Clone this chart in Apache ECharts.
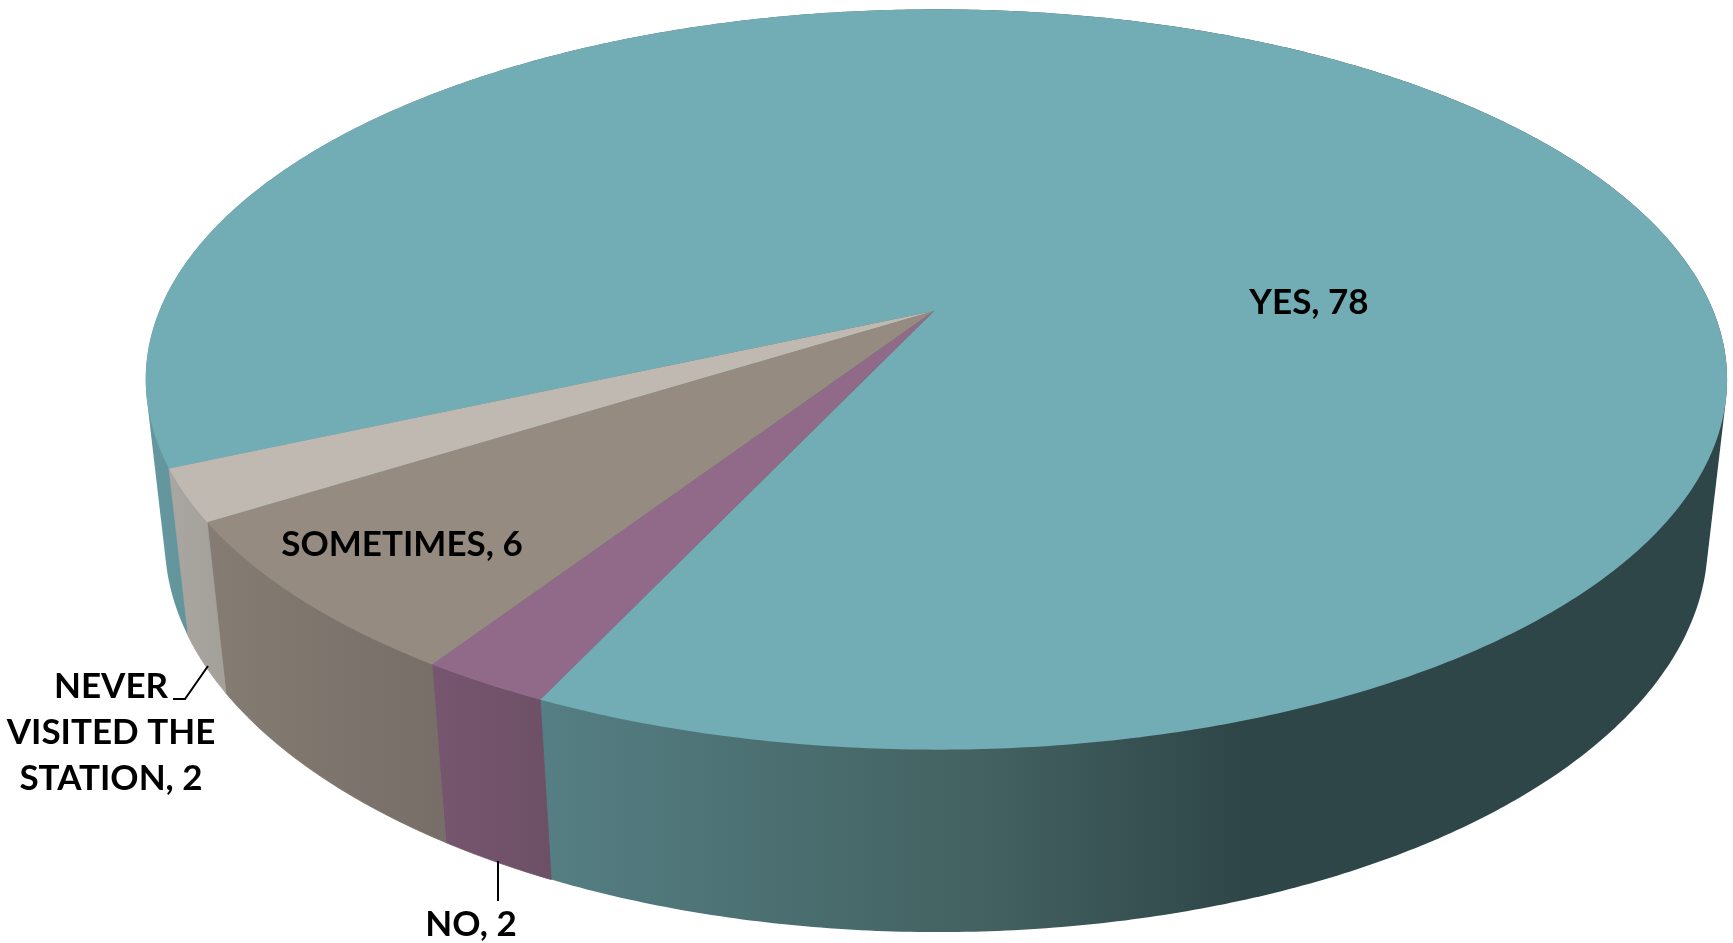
<!DOCTYPE html>
<html>
<head>
<meta charset="utf-8">
<style>html,body{margin:0;padding:0;background:#fff}#c{width:1733px;height:943px}</style>
<script src="https://cdn.jsdelivr.net/npm/echarts@6/dist/echarts.min.js"></script>
</head>
<body>
<div id="c"></div>
<script>
// Data
var categories = ['YES', 'NO', 'SOMETIMES', 'NEVER VISITED THE STATION'];
var values = [78, 2, 6, 2];
var labelLines = [['YES, 78'], ['NO, 2'], ['SOMETIMES, 6'], ['NEVER', 'VISITED THE', 'STATION, 2']];

// Styles
var topColors = ['#72acb4', '#916a89', '#968b80', '#bfb9b2'];
var wallStops = [
  [[145, '#64979f'], [540, '#557f84'], [1000, '#42605f'], [1240, '#2f4649'], [1733, '#2f4649']],
  [[430, '#775670'], [560, '#6c4f65']],
  [[205, '#857c73'], [450, '#766e67']],
  [[165, '#aaa6a1'], [230, '#a39f99']]
];
var labelAnchors = [[1309, 303], [471, 925], [402, 545], [111, 733]];
var leaders = [null, [[498, 861], [498, 901]], null, [[208, 666], [185, 699], [173, 699]]];

// Perspective of the pie disc (image pixels)
var view = { x0: 934, y0: 311, A: 777, B: 357.5, k: 0.185, j: 0.003, C: 163.6, m: -0.024 };
var firstSliceAngle = 245.9;

function project(deg, h) {
  var a = deg * Math.PI / 180;
  var u = Math.sin(a), v = -Math.cos(a);
  var w = 1 - view.k * v - view.j * u - view.m * h;
  return [view.x0 + view.A * u / w, view.y0 + (view.B * v + view.C * h) / w];
}
var total = values.reduce(function (s, v) { return s + v; }, 0);
var spans = [], running = firstSliceAngle;
values.forEach(function (v) {
  var d = v / total * 360;
  spans.push([running, running + d]);
  running += d;
});
function sweep(i) {
  var s = spans[i], n = Math.max(4, Math.ceil((s[1] - s[0]) * 2)), out = [];
  for (var j = 0; j <= n; j++) out.push(s[0] + (s[1] - s[0]) * j / n);
  return out;
}
// Outline of the slice's wall: the part above the rim is hidden by the top face
function hull(points) {
  var p = points.slice().sort(function (a, b) { return a[0] - b[0] || a[1] - b[1]; });
  function cross(o, a, b) { return (a[0] - o[0]) * (b[1] - o[1]) - (a[1] - o[1]) * (b[0] - o[0]); }
  function half(list) {
    var r = [];
    list.forEach(function (q) {
      while (r.length >= 2 && cross(r[r.length - 2], r[r.length - 1], q) <= 0) r.pop();
      r.push(q);
    });
    r.pop();
    return r;
  }
  return half(p).concat(half(p.slice().reverse()));
}
function wallGradient(stops) {
  var x0 = stops[0][0], x1 = stops[stops.length - 1][0];
  return new echarts.graphic.LinearGradient(x0, 0, x1, 0,
    stops.map(function (p) { return { offset: (p[0] - x0) / (x1 - x0), color: p[1] }; }), true);
}
var rows = categories.map(function (c, i) { return [i, values[i], c]; });

var chart = echarts.init(document.getElementById('c'), null, { renderer: 'canvas' });
chart.setOption({
  animation: false,
  backgroundColor: '#ffffff',
  tooltip: { show: false },
  series: [
    {
      type: 'custom', name: 'walls', coordinateSystem: 'none', z: 1, silent: true,
      data: rows,
      renderItem: function (params, api) {
        var i = api.value(0), pts = [], fill = wallGradient(wallStops[i]);
        sweep(i).forEach(function (d) { pts.push(project(d, 0), project(d, 1)); });
        return {
          type: 'polygon',
          shape: { points: hull(pts) },
          style: i === 0 ? { fill: fill } : { fill: fill, stroke: fill, lineWidth: 0.8 }
        };
      }
    },
    {
      type: 'custom', name: 'tops', coordinateSystem: 'none', z: 2, silent: true,
      data: rows,
      renderItem: function (params, api) {
        var i = api.value(0);
        var pts = sweep(i).map(function (d) { return project(d, 0); });
        return {
          type: 'polygon',
          shape: { points: [[view.x0, view.y0]].concat(pts) },
          style: { fill: topColors[i] }
        };
      }
    },
    {
      type: 'custom', name: 'labels', coordinateSystem: 'none', z: 3, silent: true,
      data: rows,
      renderItem: function (params, api) {
        var i = api.value(0), kids = [];
        var lines = labelLines[i], at = labelAnchors[i], lh = 46;
        lines.forEach(function (t, n) {
          kids.push({
            type: 'text',
            style: {
              text: t, x: at[0], y: at[1] + (n - (lines.length - 1) / 2) * lh,
              align: 'center', verticalAlign: 'middle',
              font: 'bold 35px Lato', fill: '#000'
            }
          });
        });
        if (leaders[i]) kids.push({
          type: 'polyline', shape: { points: leaders[i] },
          style: { stroke: '#000', lineWidth: 2, fill: 'none' }
        });
        return { type: 'group', children: kids };
      }
    }
  ]
});
</script>
</body>
</html>
